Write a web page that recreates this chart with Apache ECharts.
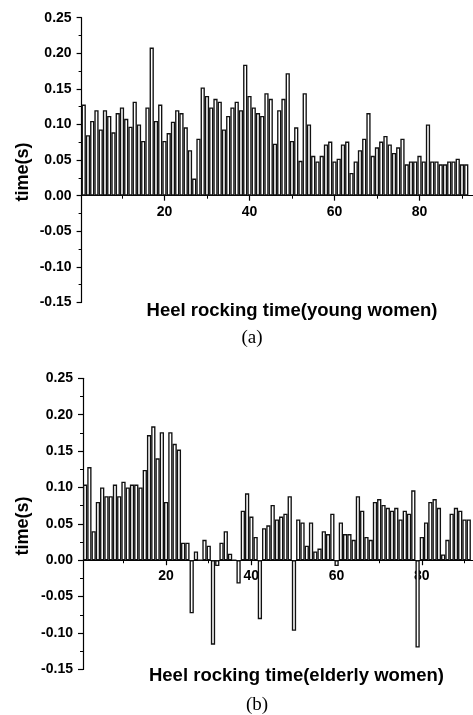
<!DOCTYPE html>
<html>
<head>
<meta charset="utf-8">
<script src="https://cdn.jsdelivr.net/npm/echarts@6/dist/echarts.min.js"></script>
<style>
html, body {margin: 0; padding: 0; background: #fff;}
#main {width: 473px; height: 715px;}
</style>
</head>
<body>
<div id="main"></div>
<script>
// heel rocking time per trial
var youngWomen = [
    0.128, 0.085, 0.105, 0.120, 0.093, 0.120, 0.112, 0.089, 0.116, 0.124,
    0.108, 0.097, 0.132, 0.100, 0.077, 0.124, 0.208, 0.105, 0.128, 0.077,
    0.088, 0.104, 0.120, 0.116, 0.096, 0.064, 0.024, 0.080, 0.152, 0.140,
    0.124, 0.136, 0.132, 0.093, 0.112, 0.124, 0.132, 0.120, 0.184, 0.140,
    0.124, 0.116, 0.112, 0.144, 0.136, 0.073, 0.120, 0.136, 0.172, 0.077,
    0.096, 0.049, 0.144, 0.100, 0.056, 0.048, 0.056, 0.072, 0.076, 0.048,
    0.052, 0.072, 0.076, 0.032, 0.048, 0.064, 0.080, 0.116, 0.056, 0.068,
    0.076, 0.084, 0.072, 0.060, 0.068, 0.080, 0.044, 0.048, 0.048, 0.056,
    0.048, 0.100, 0.048, 0.048, 0.044, 0.044, 0.048, 0.048, 0.052, 0.044,
    0.044
];
var elderlyWomen = [
    0.104, 0.128, 0.040, 0.080, 0.100, 0.088, 0.088, 0.104, 0.088, 0.108,
    0.100, 0.104, 0.104, 0.100, 0.124, 0.172, 0.184, 0.140, 0.176, 0.080,
    0.176, 0.160, 0.152, 0.024, 0.024, -0.073, 0.012, 0, 0.028, 0.020,
    -0.116, -0.008, 0.024, 0.040, 0.009, 0, -0.032, 0.068, 0.092, 0.060,
    0.032, -0.081, 0.044, 0.048, 0.076, 0.056, 0.060, 0.064, 0.088, -0.097,
    0.056, 0.052, 0.020, 0.052, 0.012, 0.016, 0.040, 0.036, 0.064, -0.008,
    0.052, 0.036, 0.036, 0.028, 0.088, 0.068, 0.032, 0.028, 0.080, 0.084,
    0.076, 0.072, 0.068, 0.072, 0.056, 0.068, 0.064, 0.096, -0.120, 0.032,
    0.052, 0.080, 0.084, 0.072, 0.008, 0.028, 0.064, 0.072, 0.068, 0.056,
    0.056
];
var xMajorTicks = [20, 40, 60, 80];
var xMinorTicks = [10, 30, 50, 70, 90];
var yLabel = 'time(s)';
var xTitles = ['Heel rocking time(young women)', 'Heel rocking time(elderly women)'];
var panelNames = ['(a)', '(b)'];

function toPairs(values) {
    var out = [];
    for (var i = 0; i < values.length; i++) {
        out.push([i + 1, values[i]]);
    }
    return out;
}

var dom = document.getElementById('main');
var myChart = echarts.init(dom, null, {renderer: 'canvas'});

var boldFont = 'Liberation Sans, Arial, sans-serif';
var yMin = -0.15, yMax = 0.25;

var panels = [
    {left: 81.6, top: 17.7, width: 391, height: 284.8, xMax: 92.5},
    {left: 83, top: 378.3, width: 391.3, height: 291.1, xMax: 92}
];

var grids = [], xAxes = [], yAxes = [], series = [];
panels.forEach(function (g, k) {
    // full grid: bars + y axis
    grids.push({left: g.left, top: g.top, width: g.width, height: g.height});
    // upper grid: ends at y = 0, carries the x axis
    grids.push({left: g.left, top: g.top, width: g.width, height: g.height * yMax / (yMax - yMin)});

    xAxes.push({
        type: 'value', gridIndex: 2 * k, min: 0.5, max: g.xMax, show: false
    });
    xAxes.push({
        type: 'value', gridIndex: 2 * k + 1, position: 'bottom', min: 0.5, max: g.xMax,
        axisLine: {show: true, onZero: false, lineStyle: {color: '#000', width: 1.2}},
        axisTick: {show: true, length: 5, customValues: xMajorTicks, lineStyle: {color: '#000', width: 1.2}},
        axisLabel: {
            show: true, customValues: xMajorTicks, margin: 9,
            color: '#000', fontWeight: 'bold', fontSize: 14, fontFamily: boldFont
        },
        splitLine: {show: false}
    });
    // minor x ticks (every 10)
    xAxes.push({
        type: 'value', gridIndex: 2 * k + 1, position: 'bottom', min: 0.5, max: g.xMax,
        axisLine: {show: false, onZero: false},
        axisTick: {show: true, length: 3, customValues: xMinorTicks, lineStyle: {color: '#000', width: 1}},
        axisLabel: {show: false},
        splitLine: {show: false}
    });

    yAxes.push({
        type: 'value', gridIndex: 2 * k, min: yMin, max: yMax, interval: 0.05,
        axisLine: {show: true, onZero: false, lineStyle: {color: '#000', width: 1.2}},
        axisTick: {show: true, length: 5, lineStyle: {color: '#000', width: 1.2}},
        minorTick: {show: true, splitNumber: 2, length: 3, lineStyle: {color: '#000', width: 1}},
        axisLabel: {
            margin: 10, color: '#000', fontWeight: 'bold', fontSize: 14, fontFamily: boldFont,
            formatter: function (v) { return v.toFixed(2); }
        },
        splitLine: {show: false}
    });
    yAxes.push({
        type: 'value', gridIndex: 2 * k + 1, min: 0, max: 1, show: false
    });

    series.push({
        type: 'bar',
        xAxisIndex: 3 * k,
        yAxisIndex: 2 * k,
        barWidth: g.width / (g.xMax - 0.5),
        itemStyle: {color: '#fff', borderColor: '#111', borderWidth: 1.35},
        data: toPairs(k === 0 ? youngWomen : elderlyWomen)
    });
});

var textBits = [
    {x: 23, y: 172, rot: Math.PI / 2, text: yLabel, font: 'bold 18px ' + boldFont},
    {x: 23, y: 526, rot: Math.PI / 2, text: yLabel, font: 'bold 18px ' + boldFont},
    {x: 292, y: 311, rot: 0, text: xTitles[0], font: 'bold 18.5px ' + boldFont},
    {x: 296.5, y: 676, rot: 0, text: xTitles[1], font: 'bold 18.5px ' + boldFont},
    {x: 252, y: 338, rot: 0, text: panelNames[0], font: '19px Liberation Serif, serif'},
    {x: 257, y: 705, rot: 0, text: panelNames[1], font: '19px Liberation Serif, serif'}
];

var option = {
    animation: false,
    backgroundColor: '#fff',
    grid: grids,
    xAxis: xAxes,
    yAxis: yAxes,
    series: series,
    graphic: textBits.map(function (t) {
        return {
            type: 'text', x: t.x, y: t.y, rotation: t.rot,
            style: {text: t.text, font: t.font, fill: '#000', align: 'center', verticalAlign: 'middle'}
        };
    })
};

if (option && typeof option === 'object') {
    myChart.setOption(option, true);
}
</script>
</body>
</html>
